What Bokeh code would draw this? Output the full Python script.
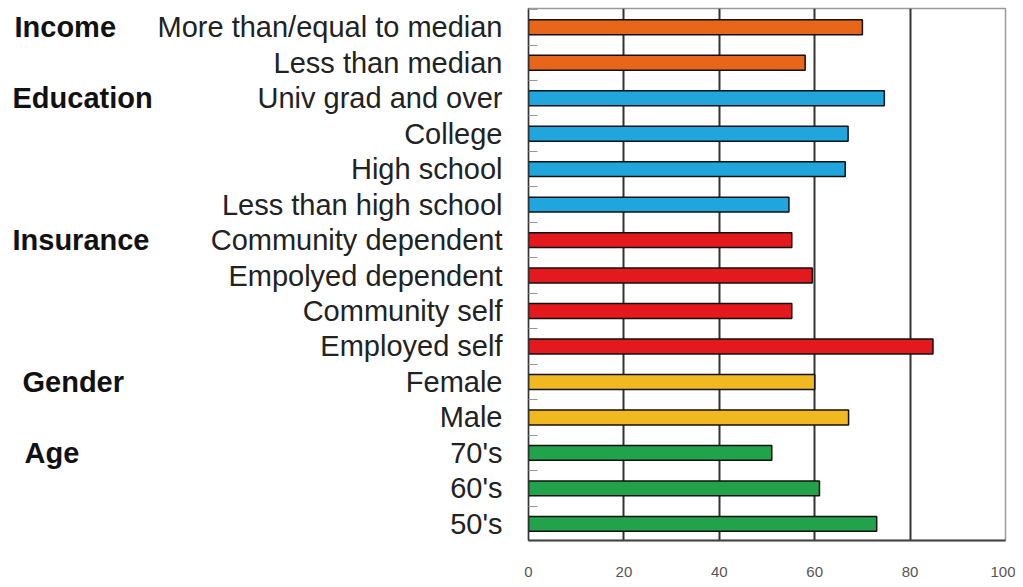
from bokeh.plotting import figure
from bokeh.layouts import row
from bokeh.models import ColumnDataSource, FixedTicker, Range1d
from bokeh.core.properties import value
from bokeh.embed import file_html
from bokeh.resources import INLINE

# Data (top to bottom)
categories = ["More than/equal to median", "Less than median",
              "Univ grad and over", "College", "High school", "Less than high school",
              "Community dependent", "Empolyed dependent", "Community self", "Employed self",
              "Female", "Male",
              "70's", "60's", "50's"]
groups = ["Income", "Income",
          "Education", "Education", "Education", "Education",
          "Insurance", "Insurance", "Insurance", "Insurance",
          "Gender", "Gender",
          "Age", "Age", "Age"]
values = [70, 58, 74.6, 67, 66.4, 54.6, 55.2, 59.5, 55.2, 84.8, 60, 67.1, 51, 61, 73]
group_labels = ["Income", "Education", "Insurance", "Gender", "Age"]
group_label_rows = ["More than/equal to median", "Univ grad and over",
                    "Community dependent", "Female", "70's"]
x_ticks = [0, 20, 40, 60, 80, 100]

group_colors = {"Income": "#E8661A", "Education": "#20A6DD", "Insurance": "#E3191D",
                "Gender": "#F2B81F", "Age": "#22A24B"}

FONT = "Liberation Sans"
W_LEFT = 154
TOTAL_W = 1015
TOTAL_H = 579

n = len(categories)
ypos = [n - 1 - i for i in range(n)]
src = ColumnDataSource(dict(y=ypos, v=values, cat=categories,
                            color=[group_colors[g] for g in groups]))
yr = Range1d(-0.47, n - 0.47)

# main chart
p = figure(width=TOTAL_W - W_LEFT, height=TOTAL_H, output_backend="svg",
           toolbar_location=None, x_range=Range1d(0, 100), y_range=yr,
           min_border_left=528 - W_LEFT, min_border_right=10, min_border_top=8,
           min_border_bottom=31)

p.hbar(y="y", right="v", left=0, height=0.42, fill_color="color",
       line_color="#111111", line_width=1.5, source=src)

p.xaxis.ticker = FixedTicker(ticks=x_ticks)
p.xaxis.major_tick_line_color = None
p.xaxis.minor_tick_line_color = None
p.xaxis.axis_line_color = "#444444"
p.xaxis.axis_line_width = 2
p.xaxis.major_label_text_font = FONT
p.xaxis.major_label_text_font_size = "15px"
p.xaxis.major_label_text_color = "#555555"
p.xaxis.major_label_standoff = 20

p.yaxis.ticker = FixedTicker(ticks=ypos, minor_ticks=[i + 0.5 for i in range(-1, n)])
p.yaxis.major_label_overrides = {y: c for y, c in zip(ypos, categories)}
p.yaxis.major_tick_line_color = None
p.yaxis.minor_tick_line_color = "#999999"
p.yaxis.minor_tick_in = 9
p.yaxis.minor_tick_out = 0
p.yaxis.axis_line_color = "#333333"
p.yaxis.axis_line_width = 1.5
p.yaxis.major_label_text_font = FONT
p.yaxis.major_label_text_font_size = "29px"
p.yaxis.major_label_text_color = "#222222"
p.yaxis.major_label_standoff = 20

p.xgrid.ticker = FixedTicker(ticks=[20, 40, 60, 80])
p.xgrid.grid_line_color = "#333333"
p.xgrid.grid_line_width = 2
p.ygrid.grid_line_color = None
p.outline_line_color = "#9a9a9a"
p.outline_line_width = 1.5

# left panel with the group labels
q = figure(width=W_LEFT, height=TOTAL_H, output_backend="svg", toolbar_location=None,
           x_range=Range1d(0, W_LEFT), y_range=yr,
           min_border_left=0, min_border_right=0, min_border_top=8, min_border_bottom=31)
q.axis.visible = False
q.grid.visible = False
q.outline_line_color = None
gsrc = ColumnDataSource(dict(
    x=[14, 12, 12, 22, 24],
    y=[ypos[categories.index(r)] for r in group_label_rows],
    t=group_labels))
q.text(x="x", y="y", text="t", source=gsrc, text_font=value(FONT),
       text_font_style="bold", text_font_size="29px", text_color="#111111",
       text_align="left", text_baseline="middle")

layout = row(q, p, spacing=0)
open("out.html", "w").write(file_html(layout, INLINE))
